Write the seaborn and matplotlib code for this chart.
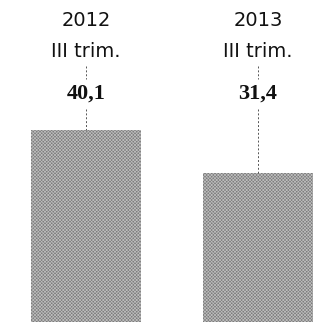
import matplotlib
matplotlib.use("Agg")
import matplotlib.pyplot as plt
import pandas as pd
import seaborn as sns

years = ["2012", "2013"]
periods = ["III trim.", "III trim."]
values = [40.1, 31.4]
value_labels = ["40,1", "31,4"]

sns.set_style("white")
plt.rcParams["hatch.linewidth"] = 0.5

df = pd.DataFrame({"year": years, "value": values})

fig = plt.figure(figsize=(3.22, 3.22), dpi=100)
ax = fig.add_axes([0, 0, 1, 1])

sns.barplot(data=df, x="year", y="value", ax=ax, color="#7c7c7c",
            width=0.634, saturation=1)

# fine diagonal texture on the bars
for bar in ax.patches:
    bar.set_edgecolor("#bcbcbc")
    bar.set_linewidth(0)
    bar.set_hatch("x" * 10)

for i, (yr, per, v, lab) in enumerate(zip(years, periods, values, value_labels)):
    ax.text(i, 62.3, yr, ha="center", va="center", fontsize=14,
            family="DejaVu Sans", color="#111111")
    ax.text(i, 56.0, per, ha="center", va="center", fontsize=14,
            family="DejaVu Sans", color="#111111")
    ax.text(i, 47.5, lab, ha="center", va="center", fontsize=16,
            family="Liberation Serif", fontweight="bold", color="#111111")
    # dashed leader lines
    ax.plot([i, i], [53.1, 50.4], ls=(0, (2, 2)), lw=0.7, color="#555555")
    ax.plot([i, i], [44.4, v], ls=(0, (2, 2)), lw=0.7, color="#555555")

ax.set_xlim(-0.5, 1.372)
ax.set_ylim(1.2, 66.4)
ax.axis("off")

fig.savefig("out.png", dpi=100)
